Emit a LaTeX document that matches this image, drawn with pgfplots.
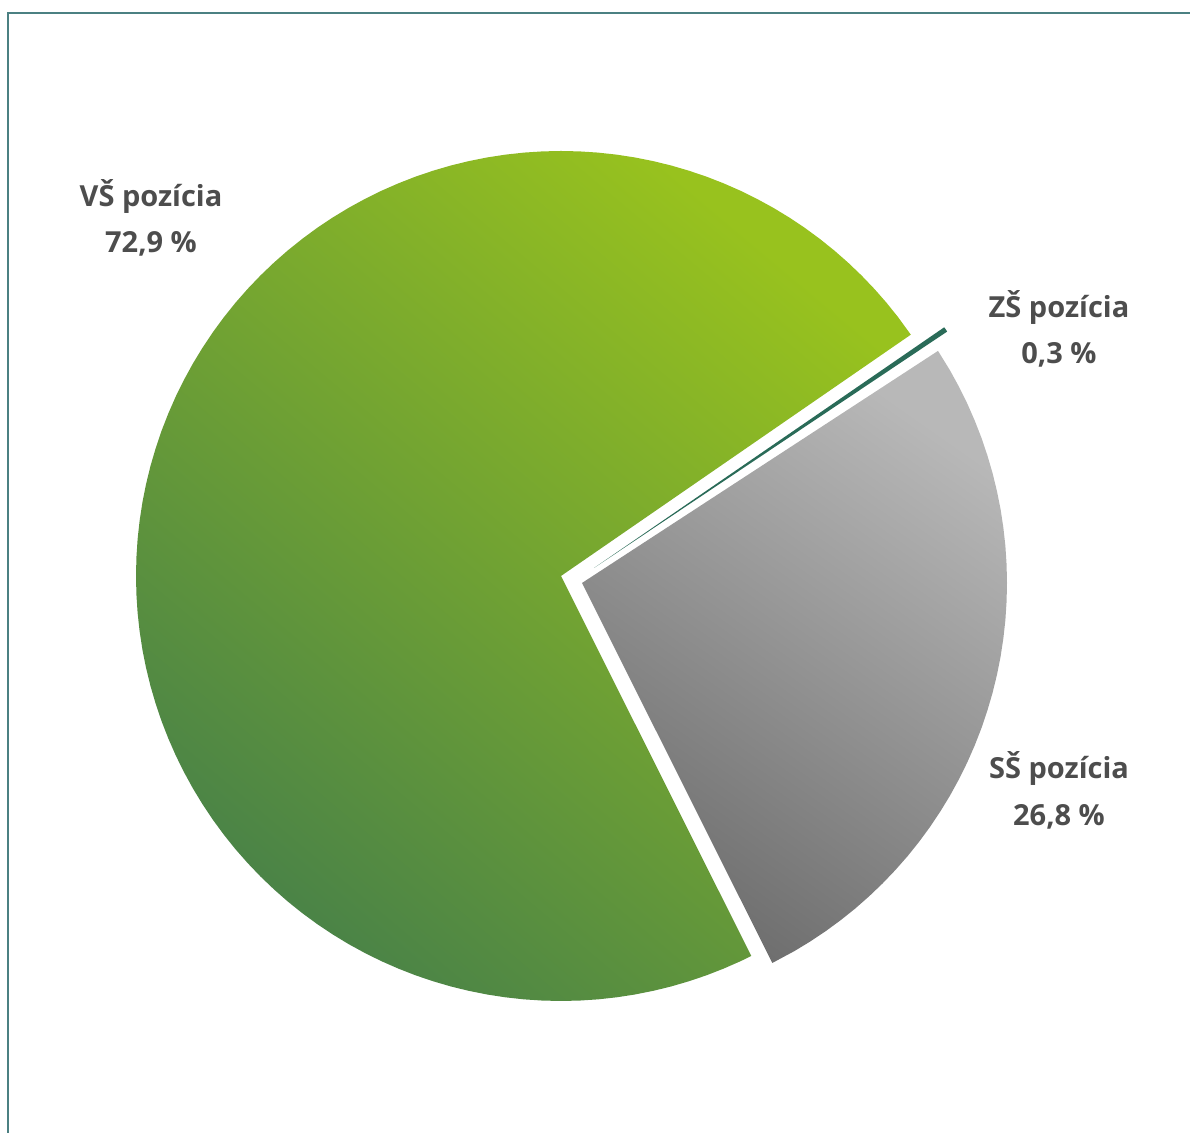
\documentclass[border=0pt]{standalone}
\usepackage{pgfplots}
\pgfplotsset{compat=1.18}
\usepackage{fontspec}
\setmainfont{Open Sans}
\definecolor{frame}{HTML}{4B8082}
\definecolor{vsA}{HTML}{98C21E}
\definecolor{vsB}{HTML}{4A8347}
\definecolor{ssA}{HTML}{B8B8B8}
\definecolor{ssB}{HTML}{6E6E6E}
\definecolor{zs}{HTML}{2A6B58}
\definecolor{txt}{HTML}{4D4D4D}
\begin{document}
\begin{tikzpicture}
\begin{axis}[
  scale only axis, width=595pt, height=566.5pt,
  xmin=-561, xmax=629, ymin=-557, ymax=576,
  hide axis, clip=false,
]
% VS pozicia 72.9 %
\addplot[data cs=polar, draw=none, top color=vsA, bottom color=vsB, shading angle=-40] coordinates {
(0,0) (34.6,425) (37.5,425) (40,425) (42.5,425) (45,425) (47.5,425) (50,425) (52.5,425) (55,425)
(57.5,425) (60,425) (62.5,425) (65,425) (67.5,425) (70,425) (72.5,425) (75,425) (77.5,425)
(80,425) (82.5,425) (85,425) (87.5,425) (90,425) (92.5,425) (95,425) (97.5,425) (100,425)
(102.5,425) (105,425) (107.5,425) (110,425) (112.5,425) (115,425) (117.5,425) (120,425)
(122.5,425) (125,425) (127.5,425) (130,425) (132.5,425) (135,425) (137.5,425) (140,425)
(142.5,425) (145,425) (147.5,425) (150,425) (152.5,425) (155,425) (157.5,425) (160,425)
(162.5,425) (165,425) (167.5,425) (170,425) (172.5,425) (175,425) (177.5,425) (180,425)
(182.5,425) (185,425) (187.5,425) (190,425) (192.5,425) (195,425) (197.5,425) (200,425)
(202.5,425) (205,425) (207.5,425) (210,425) (212.5,425) (215,425) (217.5,425) (220,425)
(222.5,425) (225,425) (227.5,425) (230,425) (232.5,425) (235,425) (237.5,425) (240,425)
(242.5,425) (245,425) (247.5,425) (250,425) (252.5,425) (255,425) (257.5,425) (260,425)
(262.5,425) (265,425) (267.5,425) (270,425) (272.5,425) (275,425) (277.5,425) (280,425)
(282.5,425) (285,425) (287.5,425) (290,425) (292.5,425) (295,425) (296.6,425) (0,0)
} -- cycle;
% SS pozicia 26.8 %
\addplot[data cs=polar, draw=none, top color=ssA, bottom color=ssB, shading angle=-35, xshift=10.5pt, yshift=-3.5pt] coordinates {
(0,0) (-63.4,425) (-60,425) (-57.5,425) (-55,425) (-52.5,425) (-50,425) (-47.5,425) (-45,425)
(-42.5,425) (-40,425) (-37.5,425) (-35,425) (-32.5,425) (-30,425) (-27.5,425) (-25,425)
(-22.5,425) (-20,425) (-17.5,425) (-15,425) (-12.5,425) (-10,425) (-7.5,425) (-5,425)
(-2.5,425) (0,425) (2.5,425) (5,425) (7.5,425) (10,425) (12.5,425) (15,425) (17.5,425)
(20,425) (22.5,425) (25,425) (27.5,425) (30,425) (33.1,425) (0,0)
} -- cycle;
% ZS pozicia 0.3 %
\addplot[data cs=polar, draw=none, fill=zs, xshift=16.5pt, yshift=4pt] coordinates {
(0,0) (33.8,425) (34.5,425) (0,0)
} -- cycle;
% frame
\draw[frame, line width=1pt] (axis cs:-553,-557) -- (axis cs:-553,563) -- (axis cs:629,563);
% labels
\begin{scope}[every node/.style={font=\fontsize{14.5}{17}\selectfont\bfseries, text=txt}]
\node at (axis cs:-410,379) {VŠ pozícia};
\node at (axis cs:-410,332) {72,9 \%};
\node at (axis cs:498,268) {ZŠ pozícia};
\node at (axis cs:498,221) {0,3 \%};
\node at (axis cs:498,-192) {SŠ pozícia};
\node at (axis cs:498,-241) {26,8 \%};
\end{scope}
\end{axis}
\pgfresetboundingbox
\path (current axis.south west) rectangle (current axis.north east);
\end{tikzpicture}
\end{document}
